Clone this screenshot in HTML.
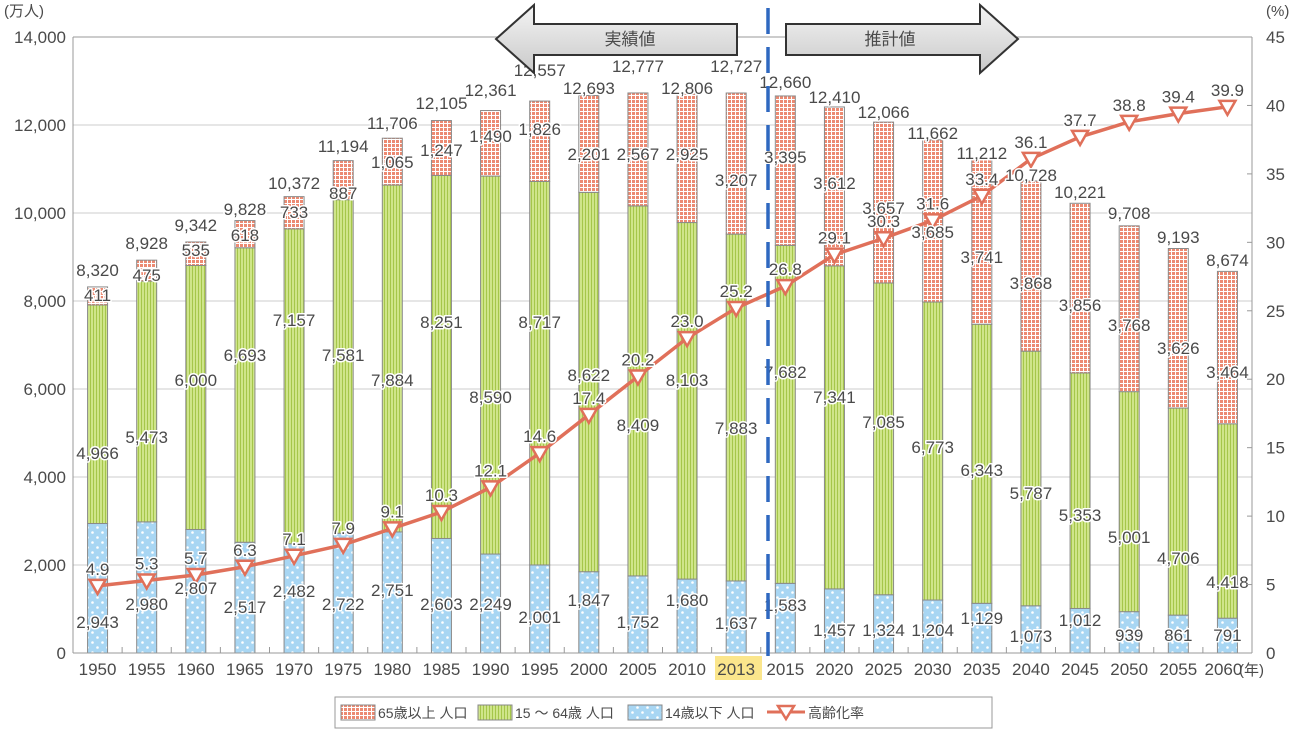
<!DOCTYPE html>
<html><head><meta charset="utf-8"><style>
html,body{margin:0;padding:0;background:#fff;}
svg{display:block;font-family:"Liberation Sans","Noto Sans CJK JP",sans-serif;}
.lbl{font-size:17px;fill:#4a4a4a;stroke:#fff;stroke-width:3px;paint-order:stroke;stroke-linejoin:round;}
.tick{font-size:17px;fill:#4a4a4a;}
.leg{font-size:14px;fill:#4a4a4a;}
</style></head><body>
<svg id="chart" width="1300" height="732" viewBox="0 0 1300 732">
<defs>
<pattern id="pDots" width="10" height="10" patternUnits="userSpaceOnUse">
<rect width="10" height="10" fill="#a8d6f3"/><circle cx="2.5" cy="2.5" r="1.3" fill="#fff"/><circle cx="7.5" cy="7.5" r="1.3" fill="#fff"/>
</pattern>
<pattern id="pStripes" width="3" height="3" patternUnits="userSpaceOnUse">
<rect width="3" height="3" fill="#cfe58a"/><rect width="1" height="3" fill="#a5c64a"/>
</pattern>
<pattern id="pGrid" width="4" height="4" patternUnits="userSpaceOnUse">
<rect width="4" height="4" fill="#fff"/><rect width="3" height="3" fill="#ec8a72"/>
</pattern>
<linearGradient id="arrowGrad" x1="0" y1="0" x2="0" y2="1">
<stop offset="0" stop-color="#f4f4f4"/><stop offset="1" stop-color="#c9c9c9"/>
</linearGradient>
</defs>
<g id="grid"></g>
<g id="bars"></g>
<g id="line"></g>
<g id="labels"></g>
<g id="axes"></g>
<rect x="715" y="656" width="47" height="24" fill="#fbe68c"/>
<g id="xlabels"></g>
<text x="1239" y="675" class="tick" style="font-size:15px">(年)</text>
<line x1="768" y1="8" x2="768" y2="656" stroke="#2f68c0" stroke-width="3.5" stroke-dasharray="26,13"/>
<polygon points="496,39 534,5 534,24 737,24 737,55 534,55 534,73" fill="url(#arrowGrad)" stroke="#333" stroke-width="2"/>
<text x="630" y="45" text-anchor="middle" class="tick">実績値</text>
<polygon points="1018,39 980,5 980,24 786,24 786,55 980,55 980,73" fill="url(#arrowGrad)" stroke="#333" stroke-width="2"/>
<text x="890" y="45" text-anchor="middle" class="tick">推計値</text>
<text x="4" y="16" class="tick" style="font-size:15px">(万人)</text>
<text x="1266" y="16" class="tick" style="font-size:15px">(%)</text>
<g>
<rect x="335" y="697" width="657" height="31" fill="#fff" stroke="#999"/>
<rect x="341" y="705" width="34" height="15" fill="url(#pGrid)" stroke="#888"/>
<text x="378" y="718" class="leg">65歳以上 人口</text>
<rect x="478" y="705" width="34" height="15" fill="url(#pStripes)" stroke="#888"/>
<text x="515" y="718" class="leg">15 ～ 64歳 人口</text>
<rect x="628" y="705" width="34" height="15" fill="url(#pDots)" stroke="#888"/>
<text x="665" y="718" class="leg">14歳以下 人口</text>
<line x1="767" y1="712" x2="805" y2="712" stroke="#e0705a" stroke-width="3"/>
<polygon points="778,706 794,706 786,719" fill="#fff" stroke="#e0705a" stroke-width="2.5"/>
<text x="808" y="718" class="leg">高齢化率</text>
</g>
</svg>
<script>
const years=["1950","1955","1960","1965","1970","1975","1980","1985","1990","1995","2000","2005","2010","2013","2015","2020","2025","2030","2035","2040","2045","2050","2055","2060"];
const under14=[2943,2980,2807,2517,2482,2722,2751,2603,2249,2001,1847,1752,1680,1637,1583,1457,1324,1204,1129,1073,1012,939,861,791];
const age15to64=[4966,5473,6000,6693,7157,7581,7884,8251,8590,8717,8622,8409,8103,7883,7682,7341,7085,6773,6343,5787,5353,5001,4706,4418];
const age65plus=[411,475,535,618,733,887,1065,1247,1490,1826,2201,2567,2925,3207,3395,3612,3657,3685,3741,3868,3856,3768,3626,3464];
const totals=[8320,8928,9342,9828,10372,11194,11706,12105,12361,12557,12693,12777,12806,12727,12660,12410,12066,11662,11212,10728,10221,9708,9193,8674];
const agingRate=[4.9,5.3,5.7,6.3,7.1,7.9,9.1,10.3,12.1,14.6,17.4,20.2,23.0,25.2,26.8,29.1,30.3,31.6,33.4,36.1,37.7,38.8,39.4,39.9];
const leftTicks=[0,2000,4000,6000,8000,10000,12000,14000];
const rightTicks=[0,5,10,15,20,25,30,35,40,45];
// label layout (pixel y of label centres, not data)
const layTotal=[270,243,225,209,183,146,123,103,90,70,88,66,88,66,82,97,112,133,153,175,192,213,237,260];
const lay65=[295,275,250,235,212,193,162,150,136,129,154,154,154,180,157,183,208,232,257,283,305,325,348,372];
const lay1564=[453,437,380,355,320,355,380,322,397,322,375,425,380,428,372,397,422,447,470,493,515,537,558,582];
const lay14=[622,604,588,607,591,604,590,604,604,617,600,622,600,623,605,630,630,630,618,636,620,635,635,635];

const NS="http://www.w3.org/2000/svg";
const X0=73,X1=1252,Y0=653,Y1=37;
const slot=(X1-X0)/years.length;
const xC=i=>X0+(i+0.5)*slot;
const yL=v=>Y0-(v/14000)*(Y0-Y1);
const yR=v=>Y0-(v/45)*(Y0-Y1);
const fmt=v=>v.toLocaleString("en-US");
function mk(tag,attrs,parent,text){const e=document.createElementNS(NS,tag);for(const k in attrs)e.setAttribute(k,attrs[k]);if(text!==undefined)e.textContent=text;parent.appendChild(e);return e;}
const gGrid=document.getElementById("grid"),gBars=document.getElementById("bars"),gLine=document.getElementById("line"),gLab=document.getElementById("labels"),gAx=document.getElementById("axes"),gX=document.getElementById("xlabels");

leftTicks.forEach(t=>{
  const y=yL(t);
  if(t>0){const l=mk("line",{x1:X0,x2:X1,y1:y,y2:y,stroke:"#ccc","stroke-width":1},gGrid);
  
  }
  const tx=mk("text",{x:66,y:y+6,"text-anchor":"end",class:"tick"},gAx,fmt(t));
  
  
});
rightTicks.forEach(t=>{
  const y=yR(t);
  mk("line",{x1:X1-5,x2:X1,y1:y,y2:y,stroke:"#999"},gAx);
  const tx=mk("text",{x:1266,y:y+6,class:"tick"},gAx,String(t));
  
  
});
mk("line",{x1:X0,x2:X0,y1:Y1,y2:Y0,stroke:"#999"},gAx);
mk("line",{x1:X1,x2:X1,y1:Y1,y2:Y0,stroke:"#999"},gAx);
mk("line",{x1:X0,x2:X1,y1:Y0,y2:Y0,stroke:"#999"},gAx);
mk("line",{x1:X0,x2:X1,y1:Y1,y2:Y1,stroke:"#999"},gAx);
for(let i=1;i<years.length;i++){mk("line",{x1:X0+i*slot,x2:X0+i*slot,y1:Y0,y2:Y0-6,stroke:"#999"},gAx);}

const bw=20;
years.forEach((yr,i)=>{
  const x=xC(i)-bw/2;
  const segs=[[under14[i],"url(#pDots)","bar-under14-"],[age15to64[i],"url(#pStripes)","bar-15-64-"],[age65plus[i],"url(#pGrid)","bar-65plus-"]];
  let base=0;
  segs.forEach(s=>{
    const r=mk("rect",{x:x,y:yL(base+s[0]),width:bw,height:yL(base)-yL(base+s[0]),fill:s[1],stroke:"#8a8a8a","stroke-width":1},gBars);
    
    
    base+=s[0];
  });
  const xl=mk("text",{x:i===years.length-1?xC(i)-4:xC(i),y:675,"text-anchor":"middle",class:"tick"},gX,yr);
  
  
  [[totals[i],layTotal[i],"total-label"],[age65plus[i],lay65[i],"label-65plus"],[age15to64[i],lay1564[i],"label-15-64"],[under14[i],lay14[i],"label-under14"]].forEach(L=>{
    const t=mk("text",{x:xC(i),y:L[1]+6,"text-anchor":"middle",class:"lbl"},gLab,fmt(L[0]));
    
    
  });
});
const pts=agingRate.map((v,i)=>xC(i)+","+yR(v)).join(" ");
const pl=mk("polyline",{points:pts,fill:"none",stroke:"#e0705a","stroke-width":3.5},gLine);


agingRate.forEach((v,i)=>{
  const cx=xC(i),cy=yR(v);
  const m=mk("polygon",{points:`${cx-8},${cy-6} ${cx+8},${cy-6} ${cx},${cy+8}`,fill:"#fff",stroke:"#e0705a","stroke-width":2.5},gLine);
  
  
  const t=mk("text",{x:cx,y:cy-11,"text-anchor":"middle",class:"lbl"},gLab,v.toFixed(1));
  
  
});
</script>
</body></html>
